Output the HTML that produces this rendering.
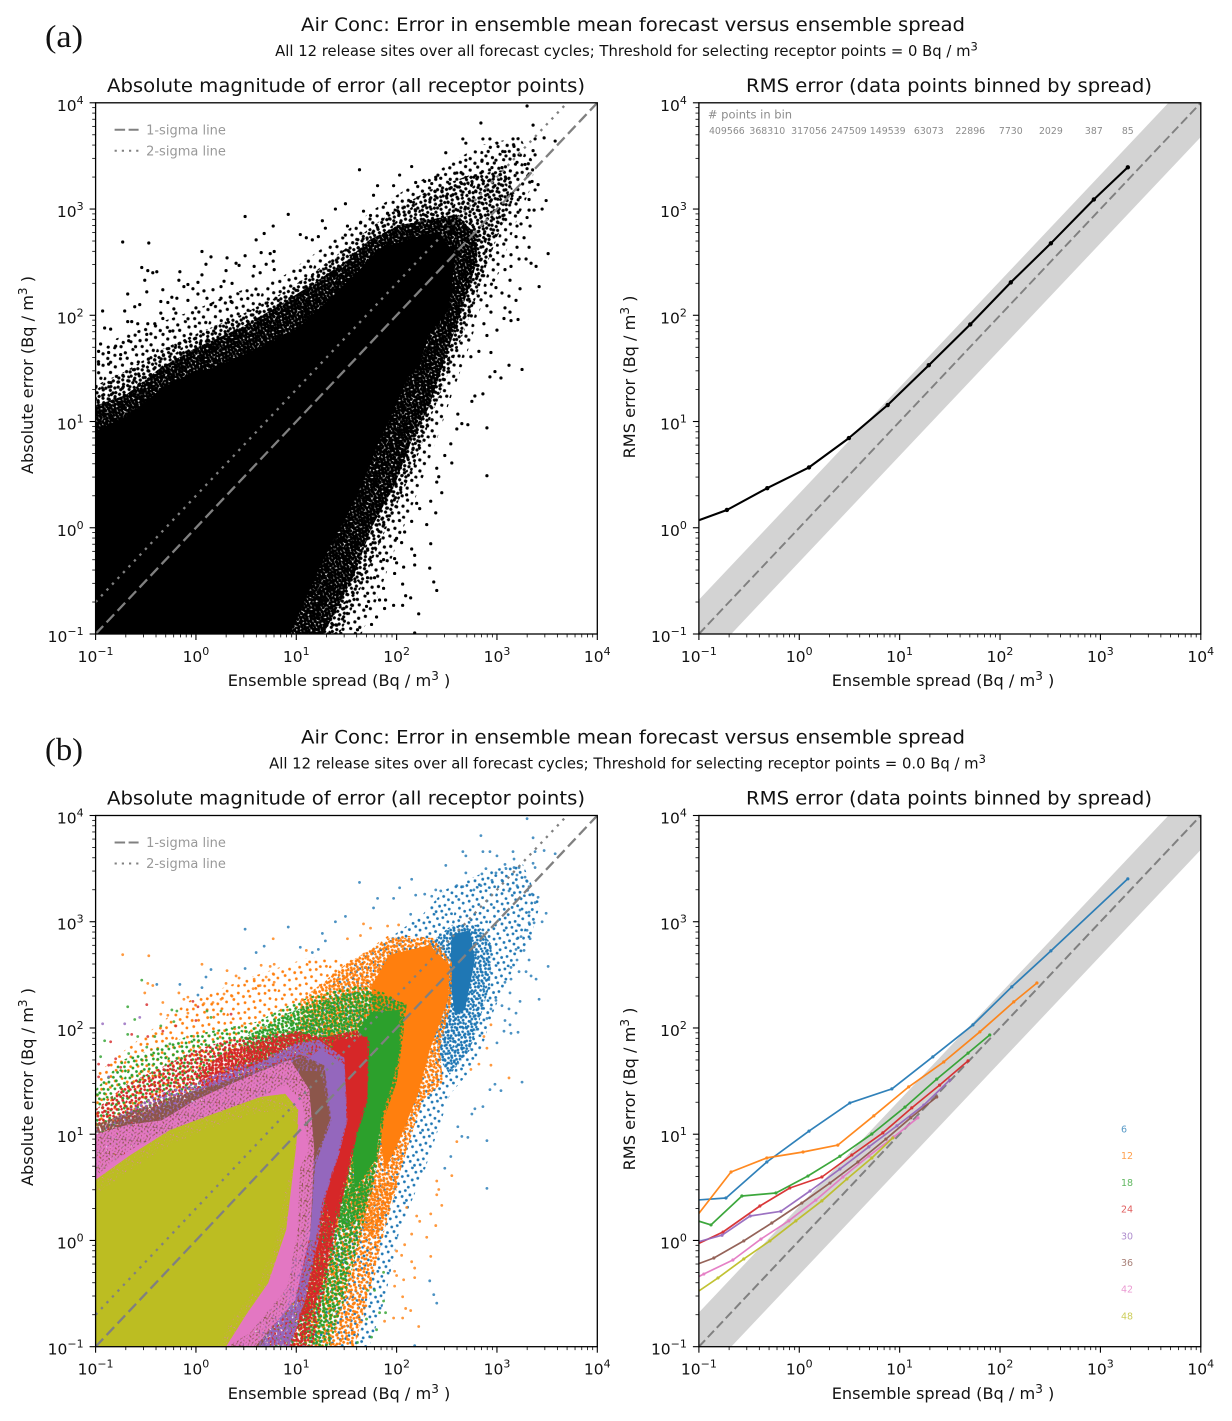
<!DOCTYPE html>
<html lang="en">
<head>
<meta charset="utf-8">
<title>Air Conc: Error in ensemble mean forecast versus ensemble spread</title>
<style>
html,body{margin:0;padding:0;background:#fff;}
svg{display:block;filter:blur(0.35px);}
text{font-family:"DejaVu Sans","Liberation Sans",sans-serif;fill:#111;}
.panel-letter{font-family:"Liberation Serif",serif;font-size:32px;}
.suptitle{font-size:18.4px;}
.subtitle{font-size:14.8px;}
.axtitle{font-size:18.4px;}
.axlabel{font-size:16.15px;}
.tick{font-size:15.5px;}
.legend{font-size:13px;fill:#999;}
.count{font-size:9.4px;fill:#8c8c8c;}
.count-head{font-size:11.5px;fill:#8c8c8c;}
.lead{font-size:9.5px;}
</style>
</head>
<body>
<svg id="fig" xmlns="http://www.w3.org/2000/svg" width="1232" height="1421" viewBox="0 0 1232 1421">
  <defs id="defs"></defs>
  <rect x="0" y="0" width="1232" height="1421" fill="#fff"></rect>

  <text class="panel-letter" x="45" y="47" textLength="38" lengthAdjust="spacingAndGlyphs">(a)</text>
  <text class="suptitle" x="633" y="31" text-anchor="middle" textLength="664" lengthAdjust="spacingAndGlyphs">Air Conc: Error in ensemble mean forecast versus ensemble spread</text>
  <text class="subtitle" x="626.5" y="56" text-anchor="middle">All 12 release sites over all forecast cycles; Threshold for selecting receptor points = 0 Bq / m<tspan dy="-5.5" font-size="11.5">3</tspan></text>

  <g id="panelAL">
    <text class="axtitle" x="346" y="92" text-anchor="middle" textLength="478" lengthAdjust="spacingAndGlyphs">Absolute magnitude of error (all receptor points)</text>
    <text class="axlabel" x="339" y="686" text-anchor="middle">Ensemble spread (Bq / m<tspan dy="-6" font-size="12">3</tspan><tspan dy="6"> )</tspan></text>
    <text class="axlabel" transform="translate(33,375) rotate(-90)" text-anchor="middle">Absolute error (Bq / m<tspan dy="-6" font-size="12">3</tspan><tspan dy="6"> )</tspan></text>
  </g>
  <g id="panelAR">
    <text class="axtitle" x="949" y="92" text-anchor="middle" textLength="406" lengthAdjust="spacingAndGlyphs">RMS error (data points binned by spread)</text>
    <text class="axlabel" x="943" y="686" text-anchor="middle">Ensemble spread (Bq / m<tspan dy="-6" font-size="12">3</tspan><tspan dy="6"> )</tspan></text>
    <text class="axlabel" transform="translate(635,377) rotate(-90)" text-anchor="middle">RMS error (Bq / m<tspan dy="-6" font-size="12">3</tspan><tspan dy="6"> )</tspan></text>
  </g>

  <text class="panel-letter" x="45" y="760" textLength="38" lengthAdjust="spacingAndGlyphs">(b)</text>
  <text class="suptitle" x="633" y="743.5" text-anchor="middle" textLength="664" lengthAdjust="spacingAndGlyphs">Air Conc: Error in ensemble mean forecast versus ensemble spread</text>
  <text class="subtitle" x="627.5" y="768.5" text-anchor="middle">All 12 release sites over all forecast cycles; Threshold for selecting receptor points = 0.0 Bq / m<tspan dy="-5.5" font-size="11.5">3</tspan></text>

  <g id="panelBL">
    <text class="axtitle" x="346" y="804.5" text-anchor="middle" textLength="478" lengthAdjust="spacingAndGlyphs">Absolute magnitude of error (all receptor points)</text>
    <text class="axlabel" x="339" y="1399" text-anchor="middle">Ensemble spread (Bq / m<tspan dy="-6" font-size="12">3</tspan><tspan dy="6"> )</tspan></text>
    <text class="axlabel" transform="translate(33,1087) rotate(-90)" text-anchor="middle">Absolute error (Bq / m<tspan dy="-6" font-size="12">3</tspan><tspan dy="6"> )</tspan></text>
  </g>
  <g id="panelBR">
    <text class="axtitle" x="949" y="804.5" text-anchor="middle" textLength="406" lengthAdjust="spacingAndGlyphs">RMS error (data points binned by spread)</text>
    <text class="axlabel" x="943" y="1399" text-anchor="middle">Ensemble spread (Bq / m<tspan dy="-6" font-size="12">3</tspan><tspan dy="6"> )</tspan></text>
    <text class="axlabel" transform="translate(635,1089) rotate(-90)" text-anchor="middle">RMS error (Bq / m<tspan dy="-6" font-size="12">3</tspan><tspan dy="6"> )</tspan></text>
  </g>
</svg>

<script>
/* ---------- axis ticks ---------- */
const tickExponents = [-1, 0, 1, 2, 3, 4];
const minorMultiples = [2, 3, 4, 5, 6, 7, 8, 9];

/* ---------- forecast lead times (hours) ---------- */
const leadHours = [6, 12, 18, 24, 30, 36, 42, 48];
const leadColors = ['#1f77b4', '#ff7f0e', '#2ca02c', '#d62728', '#9467bd', '#8c564b', '#e377c2', '#bcbd22'];

/* ---------- panel (a) RMS curve: spread, RMS error, points in bin ---------- */
const binSpreadAll = [0.08, 0.19, 0.48, 1.25, 3.12, 7.6, 19.5, 50.5, 128, 321, 860, 1875];
const binRmsAll = [1.09, 1.47, 2.36, 3.7, 6.98, 14.3, 33.9, 82, 204, 476, 1230, 2470];
const binCounts = [null, 409566, 368310, 317056, 247509, 149539, 63073, 22896, 7730, 2029, 387, 85];

/* ---------- panel (b) RMS curves, one pair per lead time ---------- */
const rmsSpread6 = [0.08, 0.186, 0.475, 1.25, 3.19, 8.36, 21.4, 53.7, 131, 321, 1875];
const rmsError6 = [2.37, 2.51, 5.48, 10.7, 19.7, 26.7, 53.5, 107, 244, 532, 2535];
const rmsSpread12 = [0.08, 0.209, 0.475, 1.09, 2.42, 5.53, 12.3, 27.5, 63, 137, 233];
const rmsError12 = [1.37, 4.41, 5.98, 6.8, 7.9, 14.9, 27.9, 47.9, 92, 176, 265];
const rmsSpread18 = [0.08, 0.132, 0.268, 0.585, 1.22, 2.54, 5.28, 11.3, 23.4, 48, 79];
const rmsError18 = [1.62, 1.40, 2.62, 2.80, 4.04, 6.2, 10.05, 18, 33, 58, 86];
const rmsSpread24 = [0.08, 0.174, 0.405, 0.805, 1.68, 3.34, 6.8, 13.2, 25, 48];
const rmsError24 = [0.85, 1.2, 2.11, 3.12, 3.96, 6.38, 10.3, 17.7, 29, 49];
const rmsSpread30 = [0.08, 0.17, 0.324, 0.656, 1.28, 2.54, 4.93, 9.4, 17.4, 31.6];
const rmsError30 = [0.92, 1.12, 1.7, 1.88, 2.92, 4.7, 7.6, 12, 18.8, 32.4];
const rmsSpread36 = [0.08, 0.141, 0.28, 0.533, 1.06, 2.02, 3.84, 7.3, 12.9, 23.4];
const rmsError36 = [0.56, 0.684, 0.99, 1.46, 2.25, 3.47, 5.48, 9.0, 14.3, 22.4];
const rmsSpread42 = [0.08, 0.112, 0.218, 0.415, 0.787, 1.46, 2.72, 4.93, 8.75, 15.2];
const rmsError42 = [0.41, 0.483, 0.655, 1.03, 1.53, 2.40, 3.96, 6.24, 9.44, 14.3];
const rmsSpread48 = [0.08, 0.155, 0.28, 0.51, 0.925, 1.68, 2.98, 5.28, 8.55];
const rmsError48 = [0.29, 0.444, 0.67, 0.99, 1.53, 2.36, 3.79, 5.97, 9.23];

/* ---------- panel (a) saturated cloud outlines: [log10 spread, log10 error] ---------- */
const cloudCore = [[-1,0.91],[-0.67,1.06],[-0.33,1.32],[0,1.48],[0.17,1.50],[0.66,1.71],[0.99,1.86],[1.49,2.29],[1.82,2.62],[2.16,2.73],[2.42,2.79],[2.59,2.56],[2.56,2.37],[2.52,2.05],[2.32,1.81],[2.22,1.52],[2.11,1.41],[1.97,1.10],[1.81,0.78],[1.67,0.44],[1.51,0.12],[1.34,-0.16],[1.11,-0.63],[0.94,-1],[-1,-1]];
const cloudDense = [[-1,1.15],[-0.7,1.25],[-0.36,1.50],[-0.01,1.69],[0.44,1.88],[0.79,2.07],[1.14,2.28],[1.48,2.50],[1.73,2.71],[2.03,2.85],[2.33,2.9],[2.6,2.95],[2.8,2.75],[2.8,2.5],[2.7,2.2],[2.58,1.86],[2.32,1.13],[2.15,0.82],[1.98,0.4],[1.75,0],[1.58,-0.44],[1.34,-0.88],[1.27,-1],[-1,-1]];
const cloudMid = [[-1,1.34],[-0.71,1.47],[-0.36,1.67],[-0.01,1.82],[0.44,2.0],[0.79,2.17],[1.14,2.38],[1.48,2.62],[1.73,2.82],[2.03,3.02],[2.33,3.18],[2.73,3.32],[3.08,3.37],[3.18,3.13],[3.03,2.8],[2.88,2.43],[2.75,2.05],[2.53,1.49],[2.35,1.06],[2.18,0.59],[1.98,0.17],[1.76,-0.3],[1.53,-0.82],[1.43,-1],[-1,-1]];
const cloudFringe = [[-1,1.62],[-0.8,1.78],[-0.46,1.9],[-0.01,2.05],[0.34,2.2],[0.84,2.35],[1.14,2.55],[1.48,2.78],[1.78,3.0],[2.15,3.22],[2.48,3.4],[2.83,3.6],[3.23,3.68],[3.38,3.41],[3.33,3.18],[3.18,2.85],[3.03,2.42],[2.83,2.05],[2.73,1.72],[2.55,1.25],[2.4,0.83],[2.2,0.31],[2.0,-0.16],[1.8,-0.68],[1.65,-1],[-1,-1]];

/* ---------- panel (b) per-lead cloud outlines: [log10 spread, log10 error] ---------- */
const core6 = [[2.55,2.88],[2.73,2.92],[2.78,2.64],[2.68,2.17],[2.58,2.12],[2.53,2.5]];
const dense6 = [[2.26,2.74],[2.55,2.97],[2.81,2.97],[2.95,2.78],[2.93,2.41],[2.83,2.08],[2.73,1.79],[2.53,1.56],[2.43,1.7]];
const sparse6 = [[1.04,1.98],[1.43,2.5],[1.83,2.78],[2.26,3.07],[2.48,3.3],[2.93,3.49],[3.26,3.54],[3.43,3.16],[3.33,2.83],[3.08,2.41],[2.95,2.12],[2.86,1.84],[2.7,1.56],[2.53,1.37],[2.43,1.09],[2.28,0.66],[2.03,0.1],[1.88,-0.56],[1.73,-1],[1.04,-1]];
const core12 = [[1.75,2.4],[1.93,2.69],[2.33,2.78],[2.53,2.59],[2.51,2.26],[2.33,1.79],[2.21,1.37],[2.03,0.95],[1.88,0.66],[1.78,1.5]];
const dense12 = [[1.04,2.26],[1.48,2.59],[1.93,2.85],[2.36,2.85],[2.55,2.62],[2.55,2.25],[2.43,1.81],[2.46,1.49],[2.26,1.32],[2.1,0.85],[1.93,0.32],[1.78,0],[1.43,0.38],[1.04,1.32]];
const sparse12 = [[-1,1.56],[-0.71,1.79],[-0.06,2.26],[0.61,2.5],[1.11,2.66],[1.6,2.66],[1.93,2.88],[2.36,2.85],[2.55,2.62],[2.55,2.25],[2.43,1.81],[2.46,1.49],[2.26,1.32],[2.1,0.85],[1.93,0.32],[1.76,-0.44],[1.6,-1],[-1,-1]];
const tail12 = [[2.03,0.57],[1.88,0.1],[1.73,-0.47],[1.58,-1],[1.04,-1],[1.24,0.38]];
const core18 = [[1.63,2.0],[1.75,2.15],[2.03,2.17],[2.03,1.79],[1.95,1.46],[1.85,1.18],[1.79,0.76],[1.58,0.48],[1.55,1.2]];
const dense18 = [[0.44,1.89],[0.94,2.15],[1.26,2.26],[1.6,2.34],[1.86,2.31],[2.1,2.22],[2.05,1.81],[2,1.49],[1.88,1.16],[1.8,0.69],[1.68,0.29],[1.48,0.1],[1.04,0.85]];
const sparse18 = [[-1,1.42],[-0.73,1.7],[-0.06,1.93],[0.61,2.06],[0.94,2.22],[1.26,2.34],[1.6,2.41],[1.86,2.34],[2.1,2.22],[2.03,1.81],[2,1.49],[1.86,1.16],[1.8,0.69],[1.6,0.07],[1.43,-0.56],[1.2,-1],[-1,-1]];
const tail18 = [[1.78,0.57],[1.63,0],[1.48,-0.56],[1.33,-1],[0.84,-1],[1.04,0.38]];
const core24 = [[1.3,1.7],[1.4,1.89],[1.71,1.92],[1.71,1.37],[1.59,0.99],[1.48,0.57],[1.35,0.15],[1.25,0.6]];
const dense24 = [[-0.01,1.56],[0.32,1.79],[0.66,1.87],[0.99,1.96],[1.26,1.91],[1.6,1.98],[1.73,1.87],[1.71,1.3],[1.61,1.01],[1.5,0.54],[1.36,0],[1.21,-0.56],[1.04,-0.75],[0.84,0.38]];
const sparse24 = [[-1,1.23],[-0.68,1.48],[-0.34,1.63],[-0.01,1.79],[0.32,1.89],[0.66,1.92],[0.99,1.98],[1.27,1.91],[1.6,1.96],[1.7,1.87],[1.7,1.3],[1.6,1.01],[1.5,0.54],[1.36,0],[1.2,-0.56],[1.07,-1],[-1,-1]];
const tail24 = [[1.48,0.48],[1.38,-0.09],[1.24,-0.65],[1.16,-1],[0.69,-1],[0.94,0.38]];
const core30 = [[1.0,1.6],[1.24,1.81],[1.48,1.65],[1.5,1.13],[1.41,0.81],[1.25,0.33],[1.19,0],[1.0,0],[1.05,1.0]];
const dense30 = [[-0.96,0.99],[-0.34,1.28],[0.32,1.56],[0.66,1.68],[0.99,1.84],[1.22,1.89],[1.48,1.72],[1.51,1.13],[1.43,0.82],[1.28,0.38],[1.22,0],[1.09,-0.56],[0.94,-1],[0.44,-1],[0.04,0.38]];
const sparse30 = [[-1,1.04],[-0.68,1.23],[-0.34,1.39],[-0.01,1.48],[0.32,1.63],[0.66,1.7],[0.99,1.86],[1.22,1.89],[1.48,1.7],[1.5,1.13],[1.43,0.82],[1.26,0.38],[1.2,0],[1.07,-0.56],[0.94,-1],[-1,-1]];
const core36 = [[0.9,1.4],[1.04,1.6],[1.25,1.59],[1.33,1.13],[1.16,0.71],[1.09,0.07],[0.9,-0.2],[0.9,0.8]];
const dense36 = [[-1,1.09],[-0.34,1.32],[0.66,1.59],[1.04,1.72],[1.28,1.65],[1.35,1.13],[1.19,0.71],[1.14,0.07],[0.89,-0.63],[0.64,-1],[0.14,-1],[-1,-1]];
const sparse36 = [[-1,0.99],[-0.66,1.13],[0.04,1.42],[0.66,1.62],[1.04,1.75],[1.28,1.65],[1.33,1.11],[1.14,0.69],[1.07,0.07],[0.81,-0.63],[0.57,-1],[-1,-1]];
const core42 = [[-1,0.61],[-0.66,0.85],[-0.26,1.04],[0.14,1.18],[0.64,1.35],[0.89,1.46],[1.06,1.32],[1.12,0.85],[1.04,0.69],[1.01,0.07],[0.91,-0.44],[0.54,-0.87],[0.31,-1],[-1,-1]];
const dense42 = [[-1,1.0],[-0.68,1.09],[-0.34,1.13],[-0.01,1.32],[0.32,1.46],[0.66,1.6],[0.94,1.7],[1.13,1.42],[1.18,0.85],[1.14,0.07],[0.99,-0.56],[0.59,-1],[-1,-1]];
const core48 = [[-1,0.43],[-0.66,0.66],[-0.26,0.9],[0.14,1.06],[0.64,1.21],[0.89,1.21],[1.02,1.09],[0.99,0.9],[0.91,0.54],[0.84,0.22],[0.77,-0.06],[0.61,-0.44],[0.37,-0.72],[0.21,-1],[-1,-1]];
const dense48 = [[-1,0.57],[-0.66,0.8],[-0.26,1.04],[0.14,1.18],[0.64,1.35],[0.89,1.38],[1.02,1.23],[1.0,0.9],[0.95,0.5],[0.9,0.1],[0.72,-0.4],[0.5,-0.7],[0.3,-1],[-1,-1]];

/* ---------- individually resolved receptor points: [log10 spread, log10 error] ---------- */
const points6 = [[3.30,3.97],[2.84,3.81],[3.36,3.79],[2.66,3.66],[2.69,3.62],[2.86,3.66],[2.93,3.66],[3.0,3.62],[3.16,3.66],[3.17,3.59],[3.38,3.66],[3.47,3.67],[3.58,3.64],[2.49,3.53],[3.08,3.54],[3.09,3.5],[2.89,3.5],[3.17,3.51],[3.22,3.51],[3.36,3.55],[3.38,3.51],[2.69,3.46],[2.85,3.45],[2.99,3.46],[3.2,3.44],[2.15,3.4],[2.39,3.3],[2.44,3.29],[2.6,3.34],[2.66,3.33],[3.28,3.42],[3.3,3.38],[3.32,3.33],[3.05,3.39],[2.95,3.39],[2.84,3.34],[2.77,3.3],[3.12,3.29],[3.2,3.34],[3.35,3.26],[3.41,3.23],[3.38,3.18],[3.49,3.08],[3.32,3.09],[3.23,3.11],[3.45,3.0],[3.37,2.99],[3.32,2.99],[3.21,2.97],[3.3,2.92],[3.24,2.86],[3.2,2.84],[3.33,2.84],[3.19,2.74],[3.27,2.73],[3.2,2.64],[3.32,2.64],[3.51,2.58],[3.14,2.57],[3.22,2.53],[3.29,2.53],[3.34,2.49],[3.39,2.46],[3.08,2.43],[3.14,2.46],[3.42,2.27],[3.13,2.33],[3.23,2.25],[3.12,2.18],[3.19,2.14],[3.05,2.21],[2.99,2.26],[2.94,2.18],[2.9,2.09],[3.08,2.07],[3.13,2.03],[3.07,1.97],[3.14,1.95],[3.21,1.96],[3.0,1.86],[2.9,0.94],[2.9,0.49],[3.25,1.49],[2.98,1.47],[3.04,1.41],[2.93,1.42],[2.86,1.26],[2.75,1.19],[2.78,1.24],[2.61,1.07],[2.71,0.97],[2.65,0.98],[2.37,-0.51],[2.4,-0.59],[2.33,-0.38],[2.18,-0.99],[2.54,0.79],[2.48,0.68],[0.49,2.93],[0.92,2.95],[0.68,2.77],[0.6,2.71],[0.15,2.55],[0.49,2.56],[-0.16,2.41],[-0.39,2.41],[1.39,3.0],[1.49,3.05],[1.26,2.89],[1.29,2.82],[1.04,2.76],[1.16,2.71],[1.22,2.74],[0.06,2.38],[0.10,2.48],[0.02,2.31],[1.63,3.37],[2.03,3.32],[1.81,3.22],[1.97,3.22],[1.77,3.13],[2.14,3.07],[2.19,3.25],[2.28,3.26],[2.35,3.24]];
const points12 = [[-0.73,2.69],[-0.47,2.68],[0.77,2.84],[1.10,2.73],[0.06,2.6],[0.31,2.54],[0.78,2.6],[0.74,2.58],[0.65,2.59],[-0.48,2.42],[-0.43,2.4],[-0.17,2.33],[-0.51,2.33],[-0.12,2.27],[-0.08,2.29],[-0.33,2.24],[0.30,2.42],[0.40,2.49],[0.43,2.47],[0.58,2.46],[0.70,2.48],[0.77,2.51],[0.78,2.43],[0.64,2.4],[0.57,2.37],[0.28,2.32],[0.36,2.3],[0.25,2.27],[0.17,2.24],[0.08,2.23],[-0.35,2.13],[-0.28,2.12],[-0.08,2.14],[1.67,2.98],[1.74,2.94],[1.91,2.96],[2.02,2.97],[1.64,2.87],[1.51,2.84],[2.94,2.03],[2.87,1.92],[2.9,1.81],[2.94,1.65],[2.82,1.66],[2.74,1.61],[3.12,1.53],[2.6,0.93],[2.55,0.61],[2.4,0.56],[2.42,0.48],[2.4,0.43],[2.45,0.33],[2.34,0.25],[2.39,0.14],[2.3,0.03],[2.34,-0.15],[2.15,-0.2],[2.18,-0.26],[2.18,-0.35],[2.06,-0.53],[2.07,-0.37],[1.98,-0.29],[2.0,-0.33],[1.98,-0.43],[2.09,-0.64],[2.14,-0.66],[2.06,-0.73],[1.97,-0.73],[1.88,-0.76],[2.22,-0.81],[2.23,0.18],[2.2,0.23],[2.1,0.31],[2.15,0.06],[2.08,-0.04],[2.05,-0.14],[2.0,-0.1]];
const points18 = [[-0.54,2.45],[-0.68,2.2],[-0.61,2.08],[-0.35,2.02],[-0.22,2.06],[-0.19,2.16],[-0.24,2.17],[0.11,2.16],[0.15,2.1],[0.25,2.16],[-0.91,1.88],[-0.68,1.94],[-0.58,1.92],[-0.41,1.92],[-0.95,1.73],[-0.67,1.76],[-0.49,1.82],[-0.26,1.85],[1.87,-0.3],[1.78,-0.47],[1.71,-0.47],[1.87,-0.57],[1.83,-0.68],[1.89,-0.68],[1.7,-0.74],[1.8,-0.84],[1.75,-0.91],[1.61,-0.96]];
const points24 = [[-0.49,2.22],[-0.03,2.25],[0.02,2.2],[0.35,2.13],[0,2.07],[-0.85,1.87],[-0.64,1.94],[-0.48,1.92],[-0.33,1.97],[-0.2,2.02],[-0.8,1.71],[-0.97,1.66],[-0.87,1.65],[-0.75,1.63],[-0.97,1.54]];
const points30 = [[-0.93,2.04],[-0.71,2.04],[-0.56,2.1],[-0.87,1.54]];

/* ---------- line labels ---------- */
const legendLabels = ['1-sigma line', '2-sigma line'];
const bandFactor = 2.1;
const twoSigmaFactor = 2;

/* ---------- stipple texture tile (unit coordinates) used to shade unresolved dense scatter ---------- */
const stippleTile = [[.03,.12],[.17,.05],[.31,.16],[.46,.03],[.58,.13],[.72,.07],[.88,.15],[.09,.29],[.24,.33],[.39,.27],[.53,.36],[.67,.28],[.81,.34],[.95,.41],[.04,.48],[.18,.55],[.33,.46],[.47,.58],[.61,.49],[.76,.55],[.89,.6],[.11,.71],[.27,.76],[.41,.69],[.56,.78],[.7,.72],[.84,.8],[.02,.89],[.19,.94],[.36,.87],[.5,.95],[.65,.9],[.79,.97],[.93,.91]];

const SVGNS = 'http://www.w3.org/2000/svg';
const defs = document.getElementById('defs');

function mk(tag, attrs, parent) {
  const el = document.createElementNS(SVGNS, tag);
  for (const k in attrs) el.setAttribute(k, attrs[k]);
  if (parent) parent.appendChild(el);
  return el;
}

function xAxis(p) {
  const lo = tickExponents[0], hi = tickExponents[tickExponents.length - 1];
  return v => p.l + (Math.log10(v) - lo) / (hi - lo) * (p.r - p.l);
}
function yAxis(p) {
  const lo = tickExponents[0], hi = tickExponents[tickExponents.length - 1];
  return v => p.b - (Math.log10(v) - lo) / (hi - lo) * (p.b - p.t);
}

let patternCount = 0;
function stipple(color, size, radius, angle) {
  const id = 'stipple-' + (patternCount++);
  const pat = mk('pattern', {id: id, patternUnits: 'userSpaceOnUse', width: size, height: size, patternTransform: 'rotate(' + angle + ')'}, defs);
  stippleTile.forEach(d => {
    mk('circle', {cx: d[0] * size, cy: d[1] * size, r: radius, fill: color}, pat);
  });
  return 'url(#' + id + ')';
}

function outline(pts, X, Y) {
  return pts.map(d => X(Math.pow(10, d[0])).toFixed(1) + ',' + Y(Math.pow(10, d[1])).toFixed(1)).join(' ');
}

function clipFor(p, id) {
  const c = mk('clipPath', {id: id}, defs);
  mk('rect', {x: p.l, y: p.t, width: p.r - p.l, height: p.b - p.t}, c);
  return 'url(#' + id + ')';
}

function drawFrame(root, p, key) {
  const X = xAxis(p), Y = yAxis(p);
  const g = mk('g', {}, root);
  
  

  const box = mk('rect', {x: p.l, y: p.t, width: p.r - p.l, height: p.b - p.t, fill: 'none', stroke: '#000', 'stroke-width': 1.3}, g);
  
  

  tickExponents.forEach(e => {
    const v = Math.pow(10, e);
    const tx = mk('line', {x1: X(v), x2: X(v), y1: p.b, y2: p.b + 6, stroke: '#000', 'stroke-width': 1.1}, g);
    
    
    const ty = mk('line', {x1: p.l, x2: p.l - 6, y1: Y(v), y2: Y(v), stroke: '#000', 'stroke-width': 1.1}, g);
    
    

    const sup = e < 0 ? '\u2212' + (-e) : String(e);
    const lx = mk('text', {class: 'tick', x: X(v), y: p.b + 28, 'text-anchor': 'middle'}, g);
    lx.textContent = '10';
    
    
    const lxs = mk('tspan', {dy: -7, 'font-size': 11}, lx);
    lxs.textContent = sup;
    const ly = mk('text', {class: 'tick', x: p.l - 12, y: Y(v) + 8, 'text-anchor': 'end'}, g);
    ly.textContent = '10';
    
    
    const lys = mk('tspan', {dy: -7, 'font-size': 11}, ly);
    lys.textContent = sup;

    if (e < tickExponents[tickExponents.length - 1]) {
      minorMultiples.forEach(m => {
        const mv = m * v;
        const mx = mk('line', {x1: X(mv), x2: X(mv), y1: p.b, y2: p.b + 3.4, stroke: '#000', 'stroke-width': 0.8}, g);
        
        
        const my = mk('line', {x1: p.l, x2: p.l - 3.4, y1: Y(mv), y2: Y(mv), stroke: '#000', 'stroke-width': 0.8}, g);
        
        
      });
    }
  });
}

function drawSigmaLines(parent, p, clip, withDotted, dash, width) {
  const X = xAxis(p), Y = yAxis(p);
  const lo = Math.pow(10, tickExponents[0]), hi = Math.pow(10, tickExponents[tickExponents.length - 1]);
  const one = mk('line', {x1: X(lo), y1: Y(lo), x2: X(hi), y2: Y(hi), stroke: '#808080', 'stroke-width': width, 'stroke-dasharray': dash, 'clip-path': clip}, parent);
  
  
  if (withDotted) {
    const two = mk('line', {x1: X(lo), y1: Y(lo * twoSigmaFactor), x2: X(hi), y2: Y(hi * twoSigmaFactor), stroke: '#808080', 'stroke-width': width, 'stroke-dasharray': '2.4 5.6', 'clip-path': clip}, parent);
    
    
  }
}

function drawLegend(parent, p) {
  const g = mk('g', {}, parent);
  
  
  legendLabels.forEach((label, i) => {
    const y = p.t + 27 + i * 21;
    const h = mk('line', {x1: p.l + 19, x2: p.l + 43, y1: y, y2: y, stroke: '#808080', 'stroke-width': 2, 'stroke-dasharray': i === 0 ? '10.5 3.5' : '2.2 5'}, g);
    
    
    const t = mk('text', {class: 'legend', x: p.l + 50.5, y: y + 4.5}, g);
    t.textContent = label;
    
    
  });
}

function drawBand(parent, p, clip) {
  const X = xAxis(p), Y = yAxis(p);
  const lo = Math.pow(10, tickExponents[0]), hi = Math.pow(10, tickExponents[tickExponents.length - 1]);
  const pts = [[lo, lo * bandFactor], [hi, hi * bandFactor], [hi, hi / bandFactor], [lo, lo / bandFactor]];
  const poly = mk('polygon', {points: pts.map(d => X(d[0]) + ',' + Y(d[1])).join(' '), fill: '#d3d3d3', 'clip-path': clip}, parent);
  
  
}

function drawSeries(parent, p, clip, xs, ys, color, width, radius, opacity, name) {
  const X = xAxis(p), Y = yAxis(p);
  const g = mk('g', {'clip-path': clip, opacity: opacity}, parent);
  
  
  const pts = xs.map((v, i) => X(v).toFixed(1) + ',' + Y(ys[i]).toFixed(1)).join(' ');
  const line = mk('polyline', {points: pts, fill: 'none', stroke: color, 'stroke-width': width, 'stroke-linejoin': 'round'}, g);
  
  
  xs.forEach((v, i) => {
    const c = mk('circle', {cx: X(v), cy: Y(ys[i]), r: radius, fill: color}, g);
    
    
  });
}

/* ---------- panel geometry ---------- */
const frameAL = {l: 95.6, r: 597.3, t: 102.8, b: 634};
const frameAR = {l: 698.9, r: 1200.8, t: 102.8, b: 634};
const frameBL = {l: 95.6, r: 597.3, t: 815.5, b: 1346.7};
const frameBR = {l: 698.9, r: 1200.8, t: 815.5, b: 1346.7};

/* ---------- panel (a) scatter ---------- */
(function () {
  const root = document.getElementById('panelAL');
  const clip = clipFor(frameAL, 'clip-al');
  const X = xAxis(frameAL), Y = yAxis(frameAL);
  const g = mk('g', {'clip-path': clip}, root);
  
  

  const f = mk('polygon', {points: outline(cloudFringe, X, Y), fill: stipple('#000', 42, 1.6, 17)}, g);
  
  
  const m = mk('polygon', {points: outline(cloudMid, X, Y), fill: stipple('#000', 27, 1.6, 47)}, g);
  
  
  const d = mk('polygon', {points: outline(cloudDense, X, Y), fill: stipple('#000', 16, 1.6, 31)}, g);
  
  
  const s = mk('polygon', {points: outline(cloudCore, X, Y), fill: '#000'}, g);
  
  

  [points6, points12, points18, points24, points30].forEach(list => {
    list.forEach(d => {
      const c = mk('circle', {cx: X(Math.pow(10, d[0])), cy: Y(Math.pow(10, d[1])), r: 1.6, fill: '#000'}, g);
      
      
    });
  });

  drawSigmaLines(root, frameAL, clip, true, '11 5', 2.3);
  drawLegend(root, frameAL);
  drawFrame(root, frameAL, 'scatter-a');
})();

/* ---------- panel (a) RMS ---------- */
(function () {
  const root = document.getElementById('panelAR');
  const clip = clipFor(frameAR, 'clip-ar');
  const X = xAxis(frameAR);
  drawBand(root, frameAR, clip);
  drawSigmaLines(root, frameAR, clip, false, '9 4', 1.9);
  drawSeries(root, frameAR, clip, binSpreadAll, binRmsAll, '#000', 2.1, 2.2, 1, 'rms-all-leads');

  const head = mk('text', {class: 'count-head', x: frameAR.l + 9, y: frameAR.t + 15.5}, root);
  head.textContent = '# points in bin';
  
  
  binCounts.forEach((n, i) => {
    if (n === null) return;
    const t = mk('text', {class: 'count', x: X(binSpreadAll[i]), y: frameAR.t + 31, 'text-anchor': 'middle'}, root);
    t.textContent = String(n);
    
    
  });
  drawFrame(root, frameAR, 'rms-a');
})();

/* ---------- panel (b) scatter ---------- */
(function () {
  const root = document.getElementById('panelBL');
  const clip = clipFor(frameBL, 'clip-bl');
  const X = xAxis(frameBL), Y = yAxis(frameBL);
  const sparseZones = [sparse6, sparse12, sparse18, sparse24, sparse30, sparse36, null, null];
  const tailZones = [null, tail12, tail18, tail24, null, null, null, null];
  const denseZones = [dense6, dense12, dense18, dense24, dense30, dense36, dense42, dense48];
  const coreZones = [core6, core12, core18, core24, core30, core36, core42, core48];
  const pointLists = [points6, points12, points18, points24, points30];
  const sparseTile = [36, 40, 30, 24, 24, 22, 0, 0];
  const denseTile = [21, 20, 20, 18, 18, 18, 15, 12];
  leadHours.forEach((h, i) => {
    const g = mk('g', {'clip-path': clip}, root);
    
    
    if (sparseZones[i]) {
      const f = mk('polygon', {points: outline(sparseZones[i], X, Y), fill: stipple(leadColors[i], sparseTile[i], 1.4, 13 + i * 7)}, g);
      
      
    }
    if (tailZones[i]) {
      const t = mk('polygon', {points: outline(tailZones[i], X, Y), fill: stipple(leadColors[i], 24, 1.4, 41 + i * 5)}, g);
      
      
    }
    const d = mk('polygon', {points: outline(denseZones[i], X, Y), fill: stipple(leadColors[i], denseTile[i], 1.4, 29 + i * 11)}, g);
    
    
    const s = mk('polygon', {points: outline(coreZones[i], X, Y), fill: leadColors[i]}, g);
    
    
    if (pointLists[i]) {
      pointLists[i].forEach(d => {
        const c = mk('circle', {cx: X(Math.pow(10, d[0])), cy: Y(Math.pow(10, d[1])), r: 1.4, fill: leadColors[i], opacity: 0.8}, g);
        
        
      });
    }
  });
  drawSigmaLines(root, frameBL, clip, true, '11 5', 2.3);
  drawLegend(root, frameBL);
  drawFrame(root, frameBL, 'scatter-b');
})();

/* ---------- panel (b) RMS ---------- */
(function () {
  const root = document.getElementById('panelBR');
  const clip = clipFor(frameBR, 'clip-br');
  const xsList = [rmsSpread6, rmsSpread12, rmsSpread18, rmsSpread24, rmsSpread30, rmsSpread36, rmsSpread42, rmsSpread48];
  const ysList = [rmsError6, rmsError12, rmsError18, rmsError24, rmsError30, rmsError36, rmsError42, rmsError48];
  drawBand(root, frameBR, clip);
  drawSigmaLines(root, frameBR, clip, false, '9 4', 2);
  leadHours.forEach((h, i) => {
    drawSeries(root, frameBR, clip, xsList[i], ysList[i], leadColors[i], 1.7, 1.6, 0.92, 'rms-lead-' + h);
    const t = mk('text', {class: 'lead', x: 1121, y: 1132.5 + i * 26.7, opacity: 0.75, style: 'fill:' + leadColors[i]}, root);
    t.textContent = String(h);
    
    
  });
  drawFrame(root, frameBR, 'rms-b');
})();
</script>
</body>
</html>
